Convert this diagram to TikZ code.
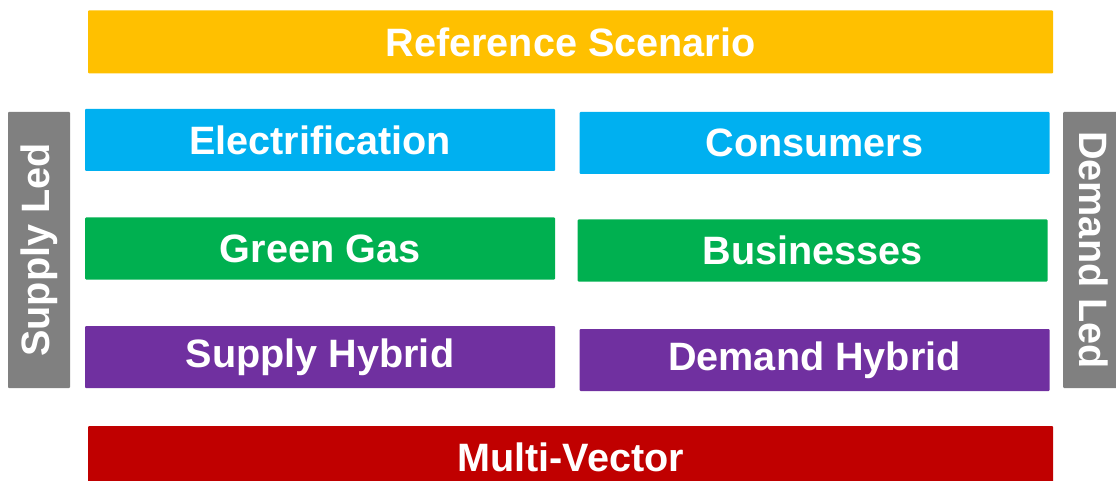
\documentclass[tikz,border=0pt]{standalone}
\usepackage{fontspec}
\setmainfont{Liberation Sans}
\definecolor{refgold}{HTML}{FFC000}
\definecolor{elecblue}{HTML}{00B0F0}
\definecolor{gasgreen}{HTML}{00B050}
\definecolor{hybpurple}{HTML}{7030A0}
\definecolor{multired}{HTML}{C00000}
\definecolor{ledgrey}{HTML}{808080}
\tikzset{
    sc box/.style={rectangle, rounded corners=1pt, text=white, inner sep=0pt,
                   font=\fontsize{39.6}{40}\selectfont\bfseries},
    sc wide/.style={sc box, minimum width=965pt, minimum height=62pt},
    sc half/.style={sc box, minimum width=470pt, minimum height=62pt},
    sc side/.style={sc box, fill=ledgrey, minimum width=276pt,
                    minimum height=62pt},
}

\begin{document}
\begin{tikzpicture}[x=1pt, y=-1pt]
    \clip (0, 0) rectangle (1116, 481);
    % Top and bottom bars
    \node[sc wide, fill=refgold, minimum height=63pt]
        (ref) at (570.5, 42) {Reference Scenario};
    \node[sc wide, fill=multired] (multi) at (570.5, 457) {Multi-Vector};
    % Supply side column
    \node[sc half, fill=elecblue] (elec) at (320, 140) {Electrification};
    \node[sc half, fill=gasgreen] (green) at (320, 248.5) {Green Gas};
    \node[sc half, fill=hybpurple] (suph) at (320, 357) {Supply Hybrid};
    % Demand side column
    \node[sc half, fill=elecblue] (cons) at (814.5, 143) {Consumers};
    \node[sc half, fill=gasgreen] (bus) at (812.5, 250.5) {Businesses};
    \node[sc half, fill=hybpurple] (demh) at (814.5, 360) {Demand Hybrid};
    % Side labels
    \node[sc side, rotate=90] (supled) at (39, 250) {Supply Led};
    \node[sc side, rotate=-90] (demled) at (1094, 250) {Demand Led};
\end{tikzpicture}
\end{document}
